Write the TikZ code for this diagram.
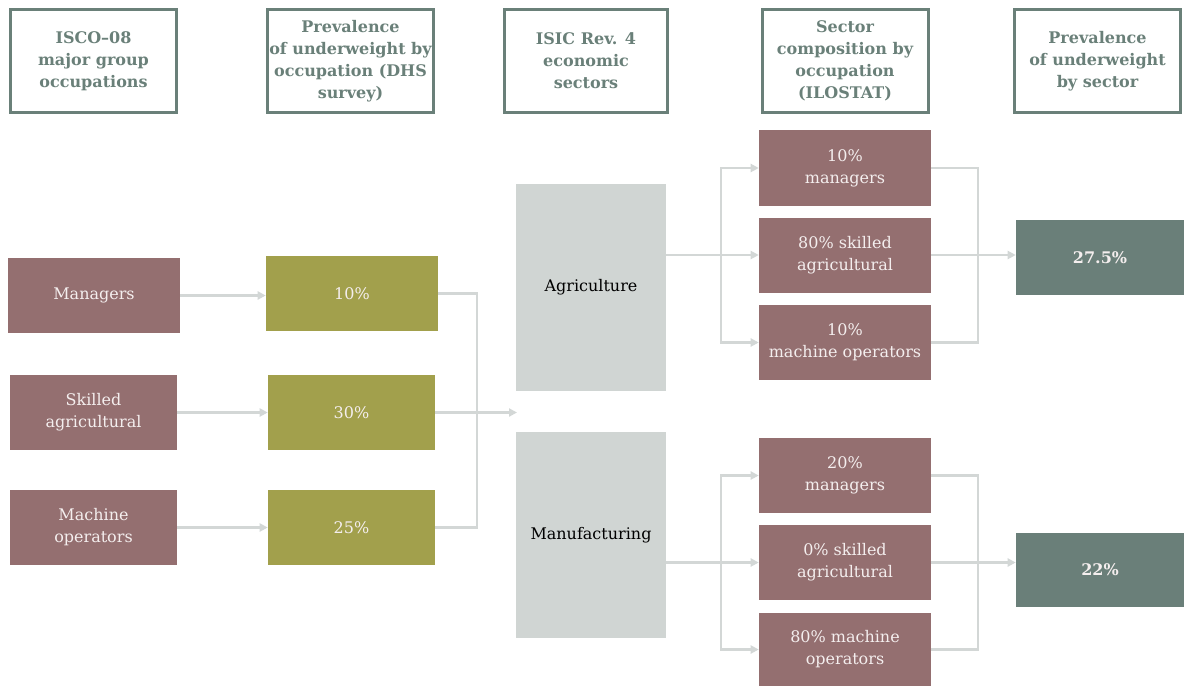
\documentclass[tikz,border=0pt]{standalone}
\usepackage{fontspec}
\setmainfont{DejaVu Serif}
\usetikzlibrary{arrows.meta}
\definecolor{mauve}{HTML}{946F70}
\definecolor{olive}{HTML}{A2A04C}
\definecolor{sector}{HTML}{D0D5D3}
\definecolor{result}{HTML}{6A7F79}
\definecolor{head}{HTML}{6A8079}
\definecolor{link}{HTML}{D3D7D6}
\definecolor{boxtext}{HTML}{F4EEEE}

\begin{document}
\begin{tikzpicture}[x=0.75pt,y=-0.75pt,
  sz/.style 2 args={minimum width=#1*0.75pt, minimum height=#2*0.75pt},
  txt/.style={font=\fontsize{12}{16.5}\selectfont},
  base/.style={inner sep=0pt, align=center, txt},
  header/.style={base, draw=head, line width=2.25pt, fill=white, text=head,
    font=\bfseries\fontsize{12}{16.5}\selectfont},
  occ/.style={base, fill=mauve, text=boxtext},
  prev/.style={base, fill=olive, text=boxtext},
  sectorbox/.style={base, fill=sector, text=black},
  resultbox/.style={base, fill=result, text=boxtext,
    font=\bfseries\fontsize{12}{16.5}\selectfont},
  link/.style={draw=link, line width=2.2pt},
  arr/.style={link, -{Triangle[width=6pt,length=6pt]}}]

\useasboundingbox (0,0) rectangle (1184,686);

% column headers
\node[header, sz={166}{103}] (h1) at (93.5,61) {ISCO–08\\major group\\occupations};
\node[header, sz={166}{103}] (h2) at (350.5,61) {Prevalence\\of underweight by\\occupation (DHS\\survey)};
\node[header, sz={163}{103}] (h3) at (586,61) {ISIC Rev. 4\\economic\\sectors};
\node[header, sz={166}{103}] (h4) at (845,61) {Sector\\composition by\\occupation\\(ILOSTAT)};
\node[header, sz={166}{103}] (h5) at (1097.5,61) {Prevalence\\of underweight\\by sector};

% occupations
\node[occ, sz={172}{75}] (man) at (94,295.5) {Managers};
\node[occ, sz={167}{75}] (ska) at (93.5,412.5) {Skilled\\agricultural};
\node[occ, sz={167}{75}] (mop) at (93.5,527.5) {Machine\\operators};

% prevalence by occupation
\node[prev, sz={172}{75}] (p10) at (352,293.5) {10\%};
\node[prev, sz={167}{75}] (p30) at (351.5,412.5) {30\%};
\node[prev, sz={167}{75}] (p25) at (351.5,527.5) {25\%};

% sectors
\node[sectorbox, sz={150}{207}] (agri) at (591,287.5) {Agriculture};
\node[sectorbox, sz={150}{206}] (manu) at (591,535) {Manufacturing};

% sector composition
\node[occ, sz={172}{76}] (a1) at (845,168) {10\%\\managers};
\node[occ, sz={172}{75}] (a2) at (845,255) {80\% skilled\\agricultural};
\node[occ, sz={172}{75}] (a3) at (845,342.5) {10\%\\machine operators};
\node[occ, sz={172}{75}] (m1) at (845,475.5) {20\%\\managers};
\node[occ, sz={172}{75}] (m2) at (845,562.5) {0\% skilled\\agricultural};
\node[occ, sz={172}{73}] (m3) at (845,649.5) {80\% machine\\operators};

% prevalence by sector
\node[resultbox, sz={168}{75}] (r1) at (1100,257.5) {27.5\%};
\node[resultbox, sz={168}{74}] (r2) at (1100,570) {22\%};

% occupation -> prevalence
\draw[arr] (man.east) -- (man.east -| p10.west);
\draw[arr] (ska.east) -- (ska.east -| p30.west);
\draw[arr] (mop.east) -- (mop.east -| p25.west);

% prevalence -> sectors
\coordinate (bus) at (477,412.5);
\coordinate (sectorin) at (517,412.5);
\draw[link] (p10.east) -| (bus) |- (p25.east);
\draw[arr] (p30.east) -- (sectorin);

% agriculture fan-out and join
\coordinate (afan) at (721,255);
\coordinate (ajoin) at (978,255);
\draw[link] (agri.east |- afan) -- (afan);
\draw[arr] (afan) |- (a1.west);
\draw[arr] (afan) -- (a2.west);
\draw[arr] (afan) |- (a3.west);
\draw[link] (a1.east) -| (ajoin) |- (a3.east);
\draw[arr] (a2.east) -- (a2.east -| r1.west);

% manufacturing fan-out and join
\coordinate (mfan) at (721,562.5);
\coordinate (mjoin) at (978,562.5);
\draw[link] (manu.east |- mfan) -- (mfan);
\draw[arr] (mfan) |- (m1.west);
\draw[arr] (mfan) -- (m2.west);
\draw[arr] (mfan) |- (m3.west);
\draw[link] (m1.east) -| (mjoin) |- (m3.east);
\draw[arr] (m2.east) -- (m2.east -| r2.west);
\end{tikzpicture}
\end{document}
